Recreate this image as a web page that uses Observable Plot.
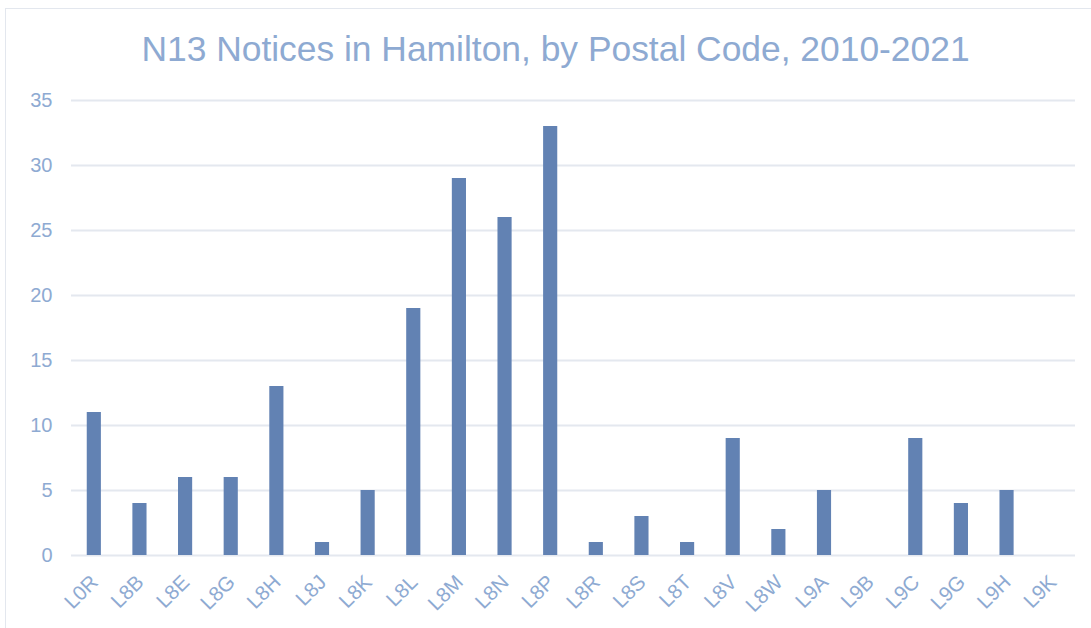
<!DOCTYPE html>
<html>
<head>
<meta charset="utf-8">
<script src="https://cdn.jsdelivr.net/npm/d3@7"></script>
<script src="https://cdn.jsdelivr.net/npm/@observablehq/plot@0.6"></script>
<style>
  html, body { margin: 0; padding: 0; background: #fff; }
  body { width: 1091px; height: 628px; position: relative; overflow: hidden; font-family: "Liberation Sans", Arial, sans-serif; }
  #frame { position: absolute; left: 5px; top: 8px; width: 1100px; height: 640px; border: 1px solid #e3e7ee; box-sizing: border-box; }
  #title { position: absolute; left: 10px; top: 29px; width: 1091px; text-align: center; font-size: 35.4px; line-height: 40px; color: #8eaad2; }
  #chart { position: absolute; left: 0; top: 88px; }
</style>
</head>
<body>
<div id="frame"></div>
<div id="title">N13 Notices in Hamilton, by Postal Code, 2010-2021</div>
<div id="chart"></div>
<script>
const codes = ["L0R","L8B","L8E","L8G","L8H","L8J","L8K","L8L","L8M","L8N","L8P","L8R","L8S","L8T","L8V","L8W","L9A","L9B","L9C","L9G","L9H","L9K"];
const notices = [11,4,6,6,13,1,5,19,29,26,33,1,3,1,9,2,5,0,9,4,5,0];
const yTicks = [0,5,10,15,20,25,30,35];

const data = codes.map((c, i) => ({code: c, value: notices[i]}));

const chart = Plot.plot({
  width: 1091,
  height: 540,
  marginLeft: 71,
  marginRight: 16,
  marginTop: 12,
  marginBottom: 73,
  style: {fontFamily: "'Liberation Sans', Arial, sans-serif", fontSize: "20px", color: "#8eaad2", background: "transparent"},
  x: {domain: codes, paddingInner: 0.69, paddingOuter: 0.345, round: false, label: null, axis: null},
  y: {domain: [0, 35], label: null},
  marks: [
    Plot.gridY(yTicks, {stroke: "#e4e8ef", strokeOpacity: 1, strokeWidth: 2}),
    Plot.barY(data, {x: "code", y: "value", fill: "#6282b3"}),
    Plot.axisY(yTicks, {tickSize: 0, tickPadding: 19, fontSize: 20, fill: "#8eaad2", label: null}),
    Plot.text(codes, {x: d => d, text: d => d, frameAnchor: "bottom", dx: 5, dy: 28, rotate: -45, textAnchor: "end", lineAnchor: "bottom", fontSize: 20.5, fill: "#8eaad2"})
  ]
});
document.getElementById("chart").appendChild(chart);
</script>
</body>
</html>
